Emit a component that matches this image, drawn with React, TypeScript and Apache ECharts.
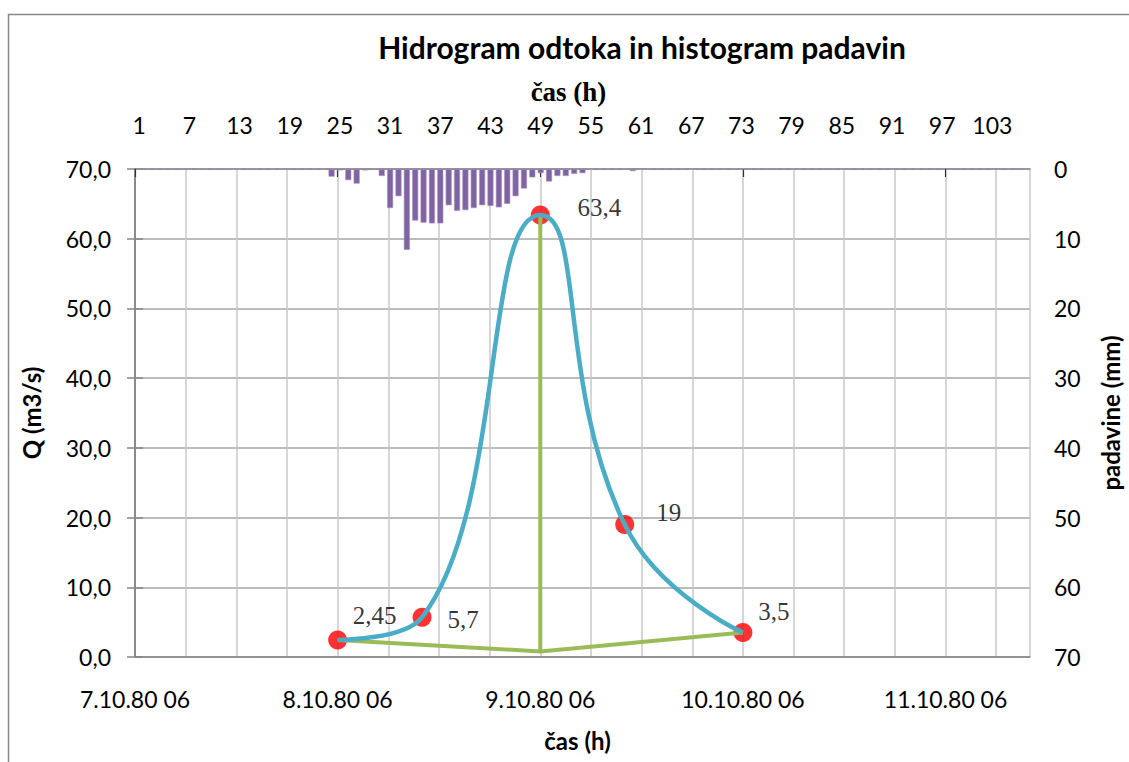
import React, { useEffect, useRef } from 'react';
import * as echarts from 'echarts';

// ---------- data ----------
const hourLabels: string[] = Array.from({ length: 107 }, (_, i) => String(i + 1));

// hourly precipitation (mm), hours 1..107
const precipitation: number[] = [
  0, 0, 0, 0, 0, 0, 0, 0, 0, 0,
  0, 0, 0, 0, 0, 0, 0, 0, 0, 0,
  0, 0, 0, 1.1, 0.2, 1.6, 2.1, 0.2, 0, 1.0,
  5.6, 3.9, 11.6, 7.4, 7.7, 7.8, 7.8, 5.2, 6.0, 5.9,
  5.6, 5.2, 5.3, 5.5, 5.0, 3.9, 2.8, 1.2, 0.6, 1.8,
  1.0, 1.0, 0.7, 0.6, 0, 0, 0, 0, 0, 0.3,
  0.1, 0, 0, 0, 0, 0, 0, 0, 0, 0,
  0, 0, 0, 0, 0, 0, 0, 0, 0, 0,
  0, 0, 0, 0, 0, 0, 0, 0, 0, 0,
  0, 0, 0, 0, 0, 0, 0, 0, 0, 0,
  0, 0, 0, 0, 0, 0, 0,
];

const dayTicks: number[] = [0, 24, 48, 72, 96];
const dayLabels: string[] = ['7.10.80 06', '8.10.80 06', '9.10.80 06', '10.10.80 06', '11.10.80 06'];

// discharge hydrograph (hours since 7.10.80 06)
const qHours: number[] = [24, 34, 48, 58, 72];
const qValues: number[] = [2.45, 5.7, 63.4, 19, 3.5];

// baseflow separation
const baseHours: number[] = [24, 48, 72];
const baseValues: number[] = [2.45, 0.8, 3.5];
const peakHours: number[] = [48, 48];
const peakValues: number[] = [0.8, 63.4];

// label placement (style only)
const labelOffsets: number[][] = [[37, -24], [41, 2], [59, -8], [44, -12], [31, -21]];

export default function App() {
  const ref = useRef<HTMLDivElement>(null);

  useEffect(() => {
    const chart = echarts.init(ref.current!, null, { renderer: 'svg' });
    const sans = 'Lato';
    const serif = 'Liberation Serif';
    const axisGray = '#868686';
    const tickFont = { fontFamily: sans, fontSize: 23, color: '#000' };
    const nameFont = { fontFamily: sans, fontSize: 24, fontWeight: 'bold' as const, color: '#000' };

    chart.setOption({
      animation: false,
      backgroundColor: '#ffffff',
      title: {
        text: 'Hidrogram odtoka in histogram padavin',
        left: 642,
        top: 32,
        textAlign: 'center',
        padding: 0,
        textStyle: { fontFamily: sans, fontWeight: 'bold', fontSize: 30, color: '#000' },
      },
      graphic: [
        {
          type: 'rect',
          silent: true,
          z: -10,
          shape: { x: 8.5, y: 14.5, width: 1140, height: 800 },
          style: { fill: 'none', stroke: '#868686', lineWidth: 1.5 },
        },
      ],
      grid: { left: 135, top: 169, width: 895, height: 488, containLabel: false, outerBoundsMode: 'none' },
      xAxis: [
        {
          type: 'value',
          position: 'bottom',
          min: 0,
          max: 106,
          interval: 6,
          axisLine: { show: true, lineStyle: { color: axisGray, width: 1.5 } },
          axisTick: { show: false },
          axisLabel: {
            ...tickFont,
            margin: 30,
            formatter: (v: number) => {
              const i = dayTicks.indexOf(v);
              return i >= 0 ? dayLabels[i] : '';
            },
          },
          splitLine: { show: true, lineStyle: { color: '#c8c8c8', width: 1.5 } },
          name: 'čas (h)',
          nameLocation: 'middle',
          nameGap: 71,
          nameTextStyle: { ...nameFont, padding: [0, 10, 0, 0] },
        },
        {
          type: 'value',
          position: 'bottom',
          min: 0,
          max: 106,
          axisLine: { show: false },
          axisTick: { show: true, customValues: dayTicks, length: 8, lineStyle: { color: '#333', width: 1.2 } },
          axisLabel: { show: false },
          splitLine: { show: false },
        },
        {
          type: 'category',
          position: 'top',
          data: hourLabels,
          boundaryGap: true,
          axisLine: { show: true, lineStyle: { color: axisGray, width: 1.5 } },
          axisTick: { show: false },
          axisLabel: { ...tickFont, interval: 5, margin: 33 },
          splitLine: { show: false },
          name: 'čas (h)',
          nameLocation: 'middle',
          nameGap: 64,
          nameTextStyle: { fontFamily: serif, fontSize: 27, fontWeight: 'bold', color: '#000', padding: [0, 28, 0, 0] },
        },
      ],
      yAxis: [
        {
          type: 'value',
          position: 'left',
          min: 0,
          max: 70,
          interval: 10,
          axisLine: { show: true, lineStyle: { color: axisGray, width: 1.5 } },
          axisTick: { show: true, length: 8, lineStyle: { color: axisGray, width: 1.5 } },
          axisLabel: {
            ...tickFont,
            margin: 24,
            formatter: (v: number) => v.toFixed(1).replace('.', ','),
          },
          splitLine: { show: true, lineStyle: { color: '#a6a6a6', width: 1.5 } },
          name: 'Q (m3/s)',
          nameLocation: 'middle',
          nameGap: 92,
          nameRotate: 90,
          nameTextStyle: nameFont,
        },
        {
          type: 'value',
          position: 'right',
          min: 0,
          max: 70,
          interval: 10,
          inverse: true,
          axisLine: { show: true, lineStyle: { color: axisGray, width: 1.5 } },
          axisTick: { show: true, length: 8, lineStyle: { color: axisGray, width: 1.5 } },
          axisLabel: { ...tickFont, margin: 24 },
          splitLine: { show: false },
          name: 'padavine (mm)',
          nameLocation: 'middle',
          nameGap: 68,
          nameRotate: 90,
          nameTextStyle: { ...nameFont, fontSize: 24 },
        },
      ],
      series: [
        {
          name: 'padavine',
          type: 'bar',
          xAxisIndex: 2,
          yAxisIndex: 1,
          data: precipitation,
          barCategoryGap: '28%',
          itemStyle: { color: '#8064A2', borderColor: '#a892c4', borderWidth: 0.6 },
          z: 2,
        },
        {
          name: 'Q tocke',
          type: 'scatter',
          xAxisIndex: 0,
          yAxisIndex: 0,
          data: qHours.map((h, i) => ({
            value: [h, qValues[i]],
            label: { offset: labelOffsets[i] },
          })),
          symbol: 'circle',
          symbolSize: 19,
          itemStyle: { color: '#FF0000' },
          label: {
            show: true,
            position: 'inside',
            formatter: (p: any) => String(p.value[1]).replace('.', ','),
            fontFamily: serif,
            fontSize: 25,
            color: '#000',
          },
          z: 3,
        },
        {
          name: 'bazni odtok',
          type: 'line',
          xAxisIndex: 0,
          yAxisIndex: 0,
          data: baseHours.map((h, i) => [h, baseValues[i]]),
          showSymbol: false,
          symbol: 'none',
          lineStyle: { color: '#9BBB59', width: 4 },
          z: 4,
        },
        {
          name: 'konica',
          type: 'line',
          xAxisIndex: 0,
          yAxisIndex: 0,
          data: peakHours.map((h, i) => [h, peakValues[i]]),
          showSymbol: false,
          symbol: 'none',
          lineStyle: { color: '#9BBB59', width: 4 },
          z: 4,
        },
        {
          name: 'Q',
          type: 'line',
          xAxisIndex: 0,
          yAxisIndex: 0,
          data: qHours.map((h, i) => [h, qValues[i]]),
          smooth: 0.5,
          showSymbol: false,
          symbol: 'none',
          lineStyle: { color: '#4BACC6', width: 4.5 },
          z: 5,
        },
      ],
    });

    return () => chart.dispose();
  }, []);

  return (
    <div
      ref={ref}
      style={{ position: 'fixed', left: 0, top: 0, width: 1129, height: 762, background: '#fff' }}
    />
  );
}
